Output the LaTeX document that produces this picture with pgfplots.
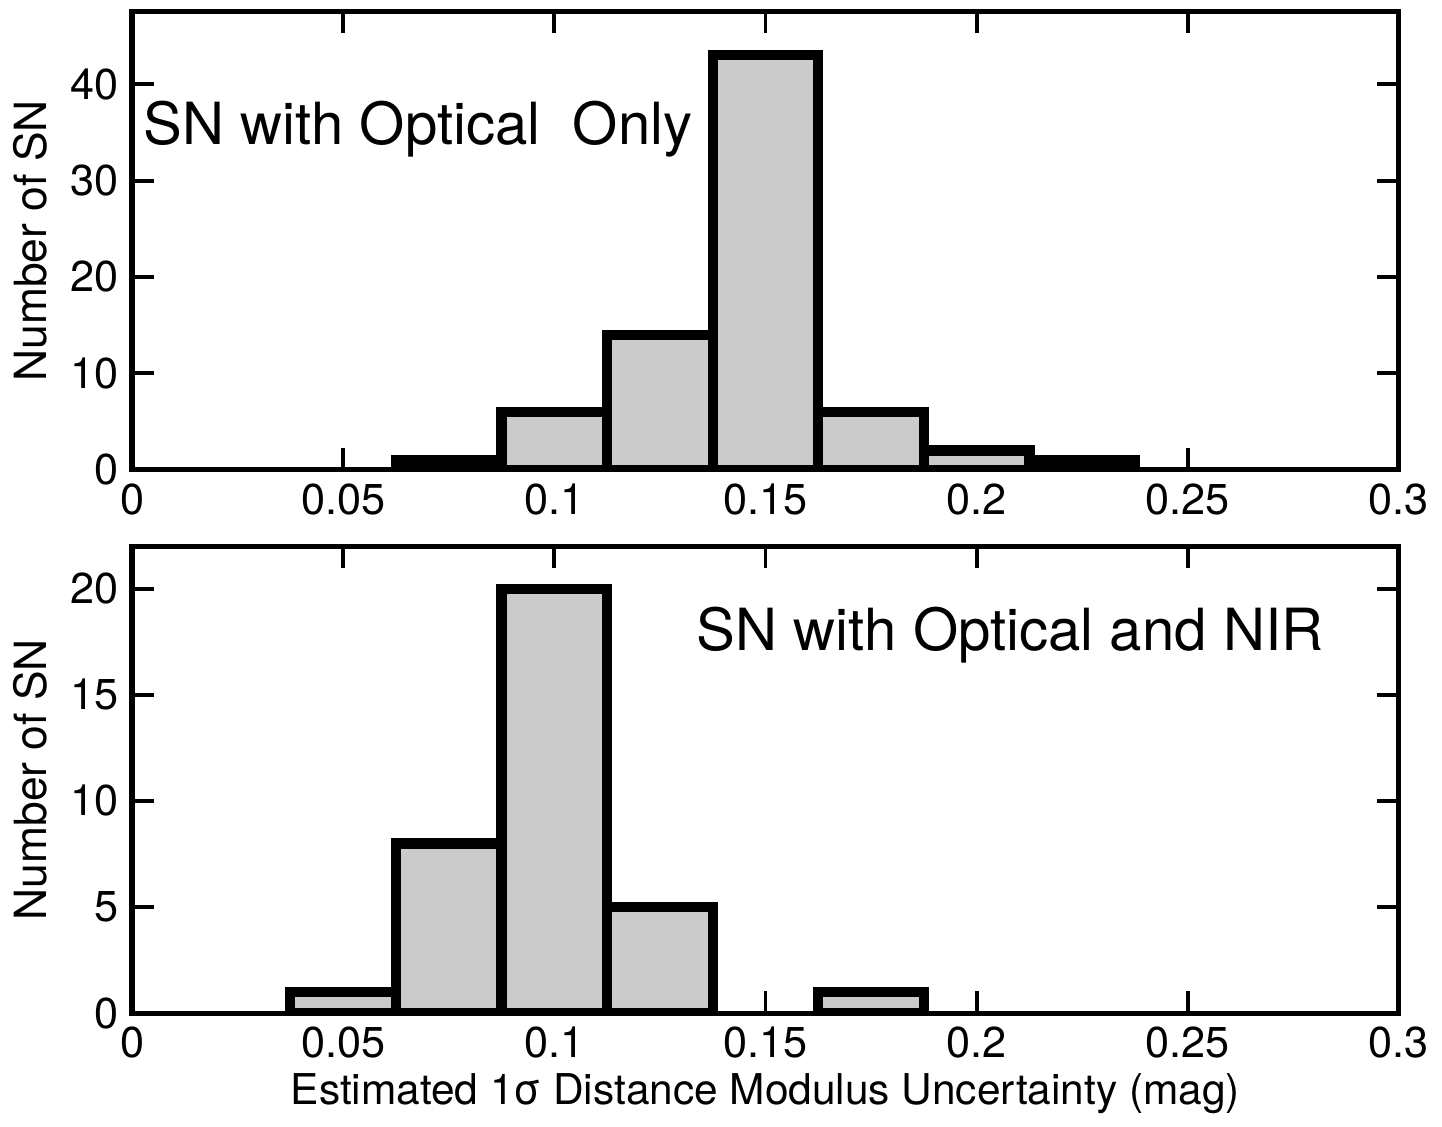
\documentclass[border=0pt]{standalone}
\usepackage{fontspec}
\setmainfont{TeX Gyre Heros}
\usepackage{pgfplots}
\pgfplotsset{compat=1.18}

\definecolor{barfill}{RGB}{203,203,203}

\pgfplotsset{
  snhist/.style={
    scale only axis,
    width=322.5pt,
    xmin=0, xmax=0.3,
    xtick={0,0.05,0.1,0.15,0.2,0.25,0.3},
    xticklabels={0,0.05,0.1,0.15,0.2,0.25,0.3},
    axis line style={line width=1.3pt},
    tick style={line width=1pt, black},
    tick align=inside,
    major tick length=5.5pt,
    minor tick num=0,
    ticklabel style={font=\fontsize{11}{13}\selectfont},
    /pgf/number format/assume math mode=true,
    ylabel style={font=\fontsize{11.3}{13}\selectfont},
    xlabel style={font=\fontsize{10.8}{13}\selectfont},
    ylabel={Number of SN},
    ylabel shift=-1pt,
  },
  snbars/.style={
    ybar interval, fill=barfill, draw=black, line width=2.6pt,
  },
}

\begin{document}
\begin{tikzpicture}
\begin{axis}[
  snhist, name=top,
  height=116.6pt,
  ymin=0, ymax=47.5,
  ytick={0,10,20,30,40},
]
  \addplot[snbars] coordinates {
    (0.0625,1) (0.0875,6) (0.1125,14) (0.1375,43)
    (0.1625,6) (0.1875,2) (0.2125,1) (0.2375,1)
  };
  \node[anchor=west, font=\fontsize{14.8}{17}\selectfont]
    at (axis cs:-0.0005,35.3) {SN with Optical\ \ Only};
\end{axis}

\begin{axis}[
  snhist,
  at={(top.south west)}, anchor=north west, yshift=-19.5pt,
  height=118.8pt,
  ymin=0, ymax=22,
  ytick={0,5,10,15,20},
  xlabel={Estimated 1σ Distance Modulus Uncertainty (mag)},
  xlabel shift=-3pt,
]
  \addplot[snbars] coordinates {
    (0.0375,1) (0.0625,8) (0.0875,20) (0.1125,5) (0.1375,5)
  };
  \addplot[snbars] coordinates {
    (0.1625,1) (0.1875,1)
  };
  \node[anchor=west, font=\fontsize{14.8}{17}\selectfont]
    at (axis cs:0.1305,17.8) {SN with Optical and NIR};
\end{axis}
% a little blank room above the top frame, as in the original
\path (top.north west) ++(0,3pt);
\end{tikzpicture}
\end{document}
